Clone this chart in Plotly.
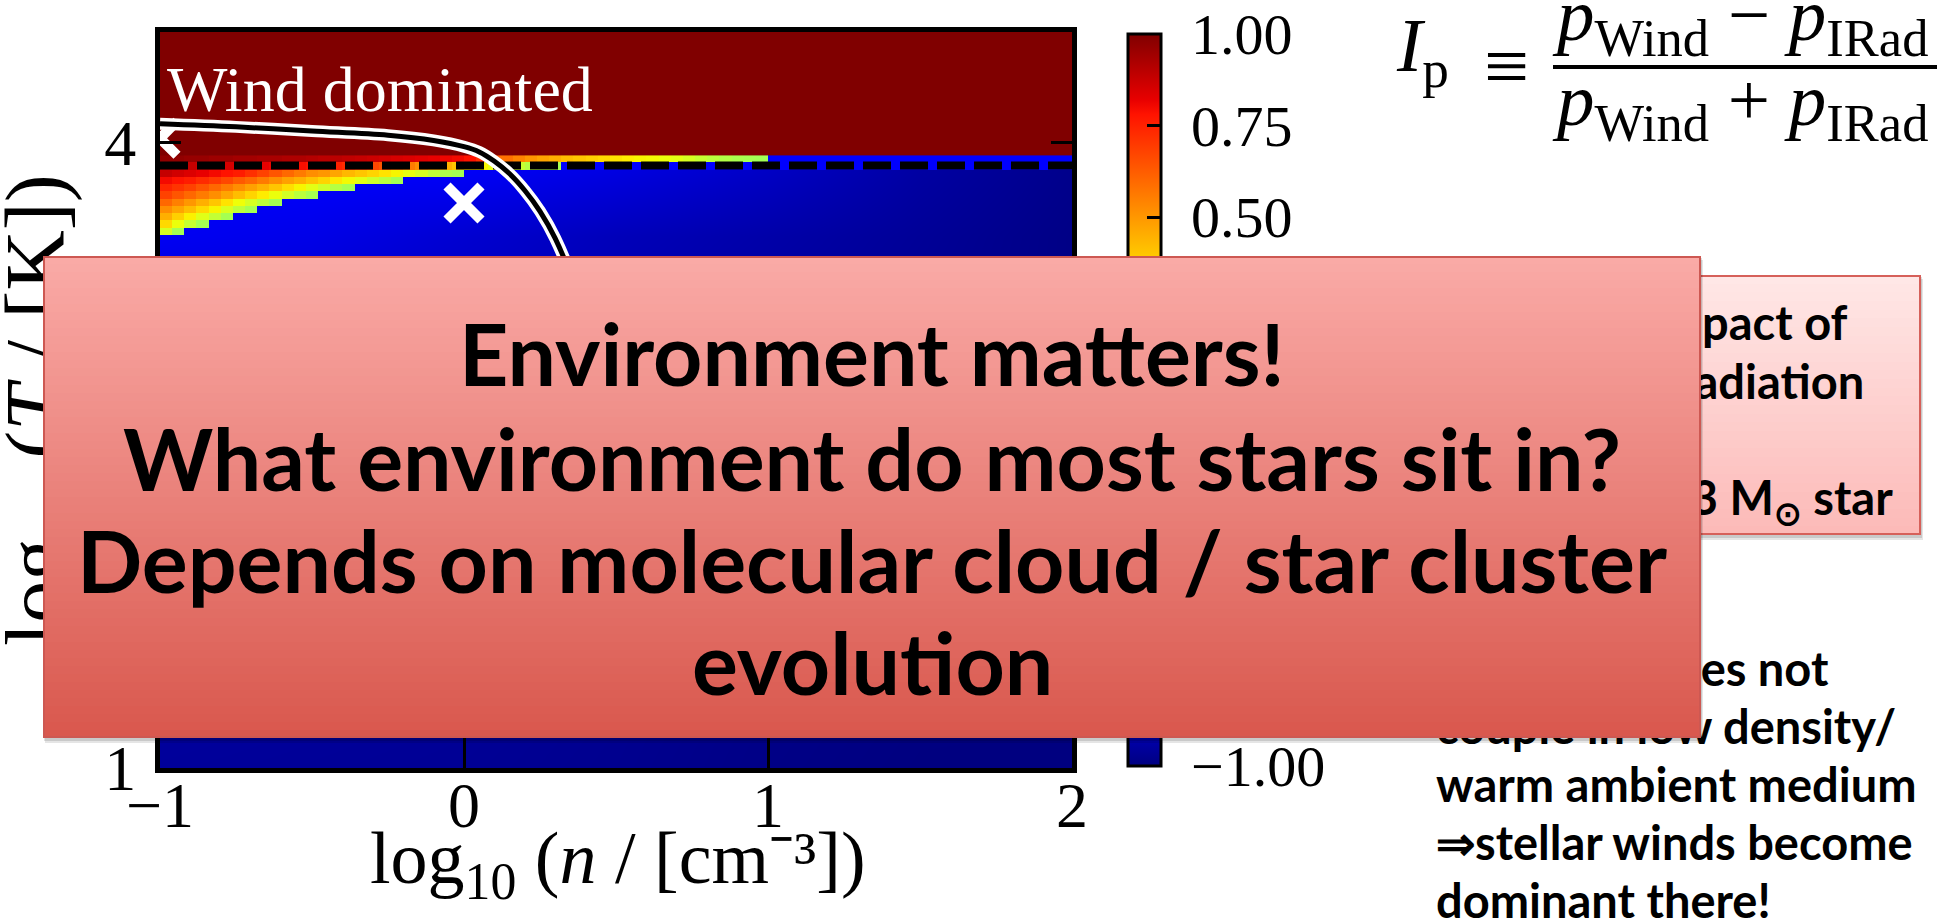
import plotly.graph_objects as go

W, H = 1937, 923
PL, PR, PT, PB = 160, 1072, 32, 768          # plot-area edges in px

def xp(px):
    return (px - PL) / (PR - PL)

def yp(py):
    return (PB - py) / (PB - PT)

# ---------------- data ----------------
x_ticks = [-1, 0, 1, 2]
y_ticks = [1, 2, 3, 4]
cbar_ticks = [-1.0, -0.75, -0.5, -0.25, 0.0, 0.25, 0.5, 0.75, 1.0]
cbar_range = [-1.0, 1.0]

# smooth blue background field (below the transition)
bg_x = [-1.0, -0.5, 0.0, 0.5, 1.0, 1.5, 2.0]
bg_y = [1.0, 2.0, 3.0, 3.55, 3.87]
bg_z = [
    [-0.955, -0.96, -0.965, -0.975, -0.99, -1.0, -1.0],
    [-0.93, -0.94, -0.95, -0.965, -0.98, -0.99, -1.0],
    [-0.88, -0.89, -0.91, -0.93, -0.955, -0.975, -0.99],
    [-0.80, -0.82, -0.86, -0.90, -0.93, -0.96, -0.99],
    [-0.78, -0.78, -0.79, -0.83, -0.88, -0.94, -0.98],
]

# wind dominated block (top)
top_x = [-1.0, 2.0]
top_y = [3.94, 4.6]
top_z = [[1.0]]

# fine cells of the transition zone (rows bottom -> top)
cell_x0, cell_dx, n_cells = -1.0, 0.04, 75
band_edges = [3.555, 3.59, 3.625, 3.66, 3.695, 3.73, 3.765, 3.80, 3.835, 3.87, 3.905, 3.94]
row_11 = [0.22, 0.10]
row_10 = [0.36, 0.27, 0.18, 0.10]
row_09 = [0.45, 0.38, 0.31, 0.24, 0.17, 0.10]
row_08 = [0.52, 0.47, 0.42, 0.36, 0.30, 0.23, 0.16, 0.10]
row_07 = [0.60, 0.55, 0.50, 0.45, 0.40, 0.34, 0.28, 0.22, 0.16, 0.10]
row_06 = [0.68, 0.64, 0.60, 0.56, 0.52, 0.47, 0.42, 0.37, 0.32, 0.27, 0.21, 0.15, 0.10]
row_05 = [0.74, 0.71, 0.68, 0.64, 0.60, 0.56, 0.52, 0.48, 0.44, 0.40, 0.35, 0.30, 0.25, 0.20, 0.14, 0.10]
row_04 = [0.80, 0.78, 0.76, 0.73, 0.70, 0.67, 0.63, 0.60, 0.56, 0.52, 0.48, 0.45, 0.41, 0.37, 0.33,
          0.29, 0.25, 0.20, 0.15, 0.10]
row_03 = [0.88, 0.86, 0.84, 0.82, 0.80, 0.78, 0.76, 0.72, 0.68, 0.64, 0.60, 0.56, 0.52, 0.50, 0.47,
          0.43, 0.40, 0.37, 0.34, 0.30, 0.26, 0.22, 0.17, 0.12, 0.10]
row_02 = [0.90, 0.89, 0.88, 0.87, 0.86, 0.85, 0.84, 0.83, 0.82, 0.81, 0.80, 0.79, 0.78, 0.77, 0.75,
          0.73, 0.70, 0.67, 0.64, 0.60, 0.56, 0.52, 0.48, 0.44, 0.40, 0.35, 0.30, 0.26, 0.22, 0.18,
          0.14, 0.12, 0.10] + [-0.78] * 42
row_01 = ([0.97, 0.97, 0.96, 0.96, 0.95, 0.95, 0.94, 0.94, 0.93, 0.93, 0.92, 0.92, 0.91, 0.90, 0.90,
           0.89, 0.88, 0.87, 0.86, 0.85, 0.84, 0.83, 0.82, 0.81, 0.80]
          + [0.78, 0.72, 0.64, 0.58, 0.54, 0.50, 0.47, 0.45, 0.42, 0.40, 0.38, 0.36, 0.34, 0.32, 0.30,
             0.29, 0.27, 0.25, 0.22, 0.18, 0.15, 0.13, 0.11, 0.10, 0.09]
          + [-0.78] * 25)
band_rows = [row_11, row_10, row_09, row_08, row_07, row_06, row_05, row_04, row_03, row_02, row_01]

boundary_T = 3.89                      # dashed line
curve_x = [-1.0, -0.75, -0.5, -0.25, -0.1, 0.0, 0.05, 0.1, 0.15, 0.2, 0.25, 0.3, 0.38, 0.46, 0.55]
curve_y = [4.09, 4.075, 4.055, 4.035, 4.01, 3.98, 3.955, 3.91, 3.85, 3.77, 3.67, 3.54, 3.25, 2.85, 2.3]
marker_x = [0.0, -1.0]
marker_y = [3.71, 4.02]

# ---------------- styles ----------------
JET = [[0.0, 'rgb(0,0,128)'], [0.11, 'rgb(0,0,255)'], [0.125, 'rgb(0,0,255)'],
       [0.34, 'rgb(0,219,255)'], [0.35, 'rgb(0,230,247)'], [0.375, 'rgb(21,255,226)'],
       [0.64, 'rgb(239,255,8)'], [0.65, 'rgb(247,245,0)'], [0.66, 'rgb(255,236,0)'],
       [0.89, 'rgb(255,19,0)'], [0.91, 'rgb(232,0,0)'], [1.0, 'rgb(128,0,0)']]
CLEAR = [[0.0, 'rgba(0,0,0,0)'], [1.0, 'rgba(0,0,0,0)']]
SERIF = 'Liberation Serif'
SANS = 'Lato'

cb_geom = dict(x=xp(1128), xanchor='left', xpad=0, y=yp(34), yanchor='top', ypad=0,
               len=732, lenmode='pixels', thickness=33, thicknessmode='pixels')

fig = go.Figure()

fig.add_trace(go.Heatmap(x=bg_x, y=bg_y, z=bg_z, zsmooth='best', zmin=-1, zmax=1,
                         colorscale=JET, showscale=False, hoverinfo='skip'))

cell_edges = [cell_x0 + cell_dx * k for k in range(n_cells + 1)]
fine_z = [r + [None] * (n_cells - len(r)) for r in band_rows]
fig.add_trace(go.Heatmap(x=cell_edges, y=band_edges, z=fine_z, zmin=-1, zmax=1,
                         colorscale=JET, showscale=False, hoverinfo='skip'))

# top block carries the colour bar (inside tick marks, no labels)
fig.add_trace(go.Heatmap(
    x=top_x, y=top_y, z=top_z, zmin=-1, zmax=1, colorscale=JET, hoverinfo='skip',
    colorbar=dict(**cb_geom, outlinewidth=3, outlinecolor='black',
                  tickvals=cbar_ticks, ticks='inside', ticklen=15, tickwidth=3,
                  tickcolor='black', showticklabels=False)))

# invisible markers whose colour scale supplies the colour-bar labels
fig.add_trace(go.Scatter(
    x=[-1, 2], y=[boundary_T, boundary_T], mode='markers', hoverinfo='skip',
    showlegend=False,
    marker=dict(color=cbar_range, cmin=-1, cmax=1, colorscale=CLEAR, showscale=True, size=2,
                line=dict(width=0),
                colorbar=dict(**cb_geom, outlinewidth=0, tickvals=cbar_ticks,
                              tickformat='.2f', ticks='outside', ticklen=19,
                              tickcolor='rgba(0,0,0,0)',
                              tickfont=dict(family=SERIF, size=58, color='black')))))

fig.add_trace(go.Scatter(x=marker_x, y=marker_y, mode='markers', hoverinfo='skip',
                         marker=dict(symbol='x-thin', size=34, color='white',
                                     line=dict(color='white', width=10)),
                         showlegend=False))

fig.add_trace(go.Scatter(x=[-1, 2], y=[boundary_T, boundary_T], mode='lines', hoverinfo='skip',
                         line=dict(color='black', width=8, dash='28px,9px'), showlegend=False))

fig.add_trace(go.Scatter(x=curve_x, y=curve_y, mode='lines', hoverinfo='skip',
                         line=dict(color='white', width=12, shape='spline'), showlegend=False))
fig.add_trace(go.Scatter(x=curve_x, y=curve_y, mode='lines', hoverinfo='skip',
                         line=dict(color='black', width=5, shape='spline'), showlegend=False))

# ---------------- annotations ----------------
ann = []

def text_ann(px, py, text, size, family=SANS, weight=700, xanchor='left', color='black',
             angle=0):
    return dict(xref='paper', yref='paper', x=xp(px), y=yp(py), xanchor=xanchor,
                yanchor='middle', text=text, showarrow=False, textangle=angle,
                font=dict(family=family, size=size, color=color, weight=weight))

def rect_ann(x0, y0, x1, y1, color, border='rgba(0,0,0,0)', bw=0):
    return dict(xref='paper', yref='paper', x=xp(x0), y=yp(y0), xanchor='left',
                yanchor='top', text=' ', showarrow=False, width=max(1, x1 - x0 - 2 * bw),
                height=max(1, y1 - y0 - 2 * bw), bgcolor=color, bordercolor=border,
                borderwidth=bw, borderpad=0, font=dict(size=4))

def gradient_box(x0, y0, x1, y1, c0, c1, n, border):
    out = [rect_ann(x0 + 2, y0 + 4, x1 + 2, y1 + 5, 'rgba(0,0,0,0.10)'),
           rect_ann(x0 + 1, y0 + 2, x1 + 1, y1 + 3, 'rgba(0,0,0,0.12)')]
    h = (y1 - y0) / n
    for i in range(n):
        t = i / (n - 1)
        c = 'rgb(%d,%d,%d)' % tuple(round(a + (b - a) * t) for a, b in zip(c0, c1))
        top = y0 + i * h
        out.append(rect_ann(x0, round(top), x1, min(y1, round(top + h) + 1), c))
    out.append(rect_ann(x0, y0, x1, y1, 'rgba(0,0,0,0)', border, 2))
    return out

# axis titles
ann.append(text_ann(618, 863, 'log<sub>10</sub> (<i>n</i> / [cm⁻³])', 74,
                    family=SERIF, weight=400, xanchor='center'))
ann.append(text_ann(42, 410, 'log<sub>10</sub> (<i>T</i> / [K])', 84, family=SERIF,
                    weight=400, xanchor='center', angle=-90))
# in-plot label
ann.append(dict(xref='x', yref='y', x=-0.985, y=4.255, xanchor='left', yanchor='middle',
                text='Wind dominated', showarrow=False,
                font=dict(family=SERIF, size=64, color='white')))

# formula
ann.append(text_ann(1394, 51, '<i>I</i><sub>p</sub>', 76, family=SERIF, weight=400))
ann.append(text_ann(1506, 66, '≡', 80, family=SERIF, weight=400, xanchor='center'))
ann.append(text_ann(1550, 20, '<i>p</i><sub>Wind</sub> − <i>p</i><sub>IRad</sub>', 75,
                    family=SERIF, weight=400))
ann.append(text_ann(1550, 105, '<i>p</i><sub>Wind</sub> + <i>p</i><sub>IRad</sub>', 75,
                    family=SERIF, weight=400))

# side box (partly hidden)
ann += gradient_box(1380, 275, 1921, 535, (255, 231, 230), (252, 186, 184), 30,
                    'rgb(214,96,90)')
ann.append(text_ann(1850, 322, 'Relative impact of', 47, xanchor='right'))
ann.append(text_ann(1866, 381, 'winds vs. radiation', 47, xanchor='right'))
ann.append(text_ann(1690, 440, 'pressure', 47, xanchor='right'))
ann.append(text_ann(1895, 500, 'for a 23 M<sub>⊙</sub> star', 47, xanchor='right'))

# bottom-right notes
notes = ['Radiation does not', 'couple in low density/', 'warm ambient medium',
         '⇒stellar winds become', 'dominant there!']
for i, line in enumerate(notes):
    ann.append(text_ann(1434, 668 + 58 * i, line, 47))

# main overlay box
ann += gradient_box(43, 256, 1701, 738, (250, 170, 166), (217, 88, 78), 60,
                    'rgb(205,88,82)')
main_lines = ['Environment matters!', 'What environment do most stars sit in?',
              'Depends on molecular cloud / star cluster', 'evolution']
main_y = [352, 457, 559, 661]
for line, py in zip(main_lines, main_y):
    ann.append(text_ann(872, py, line, 86, xanchor='center'))

fig.update_layout(
    width=W, height=H, autosize=False,
    margin=dict(l=PL, r=W - PR, t=PT, b=H - PB, pad=0),
    paper_bgcolor='white', plot_bgcolor='white', showlegend=False,
    xaxis=dict(range=[-1, 2], tickvals=x_ticks, ticks='inside', ticklen=30, tickwidth=3,
               tickcolor='black', showline=True, linewidth=5, linecolor='black', mirror=True,
               showgrid=False, zeroline=False, ticklabelstandoff=-23,
               tickfont=dict(family=SERIF, size=64, color='black')),
    yaxis=dict(range=[1, 4.53], tickvals=y_ticks, ticks='inside', ticklen=21, tickwidth=3,
               tickcolor='black', showline=True, linewidth=5, linecolor='black',
               mirror='ticks', showgrid=False, zeroline=False, ticklabelstandoff=6,
               tickfont=dict(family=SERIF, size=64, color='black')),
    shapes=[dict(type='line', xref='paper', yref='paper', x0=xp(1553), x1=xp(1937),
                 y0=yp(67), y1=yp(67), line=dict(color='black', width=4))],
    annotations=ann,
)

fig.write_html("out.html", config={'displayModeBar': False},
               post_script="document.body.style.margin='0px';document.body.style.overflow='hidden';")
